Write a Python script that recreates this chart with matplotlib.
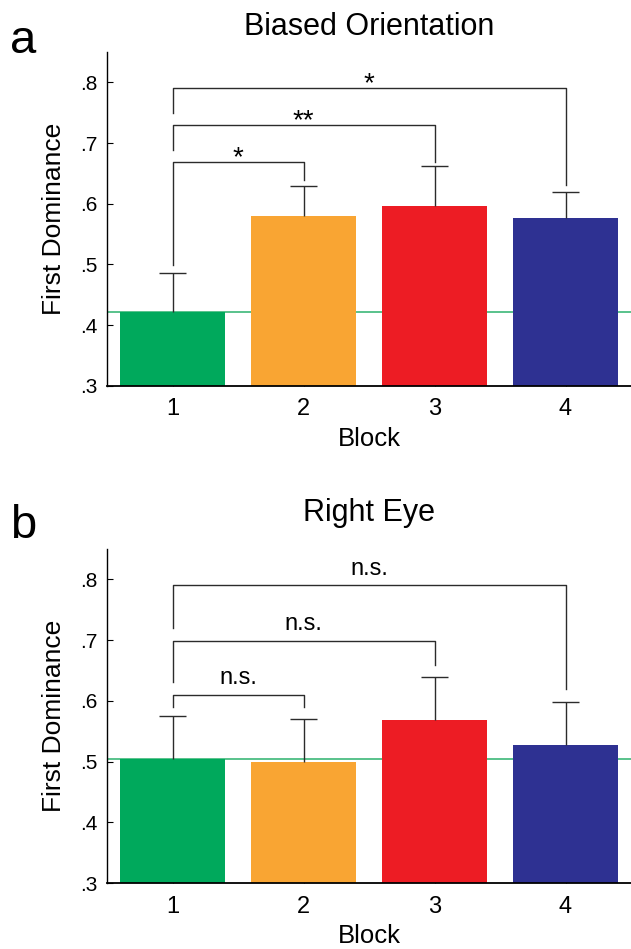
import numpy as np
import matplotlib
matplotlib.use('Agg')
import matplotlib.pyplot as plt

plt.rcParams['font.family'] = ['Liberation Sans', 'DejaVu Sans']

blocks = [1, 2, 3, 4]
block_labels = ['1', '2', '3', '4']
colors = ['#00A95C', '#F9A533', '#ED1C24', '#2E3192']
yticks = [0.3, 0.4, 0.5, 0.6, 0.7, 0.8]
ytick_labels = ['.3', '.4', '.5', '.6', '.7', '.8']

# panel a: Biased Orientation
bias_mean = [0.422, 0.580, 0.597, 0.577]
bias_err = [0.064, 0.049, 0.065, 0.043]
# (from, to, bracket height, left leg end, right leg end, label)
bias_sig = [(1, 2, 0.668, 0.499, 0.639, '*'),
            (1, 3, 0.729, 0.688, 0.668, '**'),
            (1, 4, 0.790, 0.749, 0.631, '*')]

# panel b: Right Eye
eye_mean = [0.505, 0.500, 0.569, 0.528]
eye_err = [0.070, 0.070, 0.070, 0.070]
eye_sig = [(1, 2, 0.610, 0.590, 0.590, 'n.s.'),
           (1, 3, 0.699, 0.631, 0.659, 'n.s.'),
           (1, 4, 0.790, 0.720, 0.620, 'n.s.')]

line_col = '#2b2b2b'


def draw_panel(ax, mean, err, sig, title, tpad):
    mean = np.array(mean)
    top = mean + np.array(err)
    ax.bar(blocks, mean - 0.3, bottom=0.3, width=0.8, color=colors, zorder=2)
    # upper error bars only
    ax.vlines(blocks, mean, top, color=line_col, lw=1, zorder=3)
    ax.hlines(top, np.array(blocks) - 0.1, np.array(blocks) + 0.1, color=line_col, lw=1, zorder=3)
    ax.axhline(mean[0], color='#3cb878', lw=1.2, zorder=1)
    for a, b, h, l1, l2, lab in sig:
        ax.plot([a, a, b, b], [l1, h, h, l2], color=line_col, lw=1, zorder=3)
        if '*' in lab:
            ax.text((a + b) / 2, h - 0.004, lab, ha='center', va='baseline', fontsize=20)
        else:
            ax.text((a + b) / 2, h + 0.017, lab, ha='center', va='baseline', fontsize=17)
    ax.set_xlim(0.5, 4.5)
    ax.set_ylim(0.3, 0.85)
    ax.set_xticks(blocks)
    ax.set_xticklabels(block_labels, fontsize=17)
    ax.set_yticks(yticks)
    ax.set_yticklabels(ytick_labels, fontsize=15)
    ax.tick_params(direction='in', length=4, width=0.8)
    ax.tick_params(axis='x', pad=9)
    ax.tick_params(axis='y', pad=7)
    ax.spines['top'].set_visible(False)
    ax.spines['right'].set_visible(False)
    ax.spines['left'].set_linewidth(1)
    ax.spines['bottom'].set_linewidth(1.3)
    ax.set_xlabel('Block', fontsize=18.5, labelpad=5)
    ax.set_ylabel('First Dominance', fontsize=19, labelpad=10)
    ax.set_title(title, fontsize=22, pad=tpad)


fig = plt.figure(figsize=(6.31, 9.49), dpi=100)
ax1 = fig.add_axes([0.1696, 0.5933, 0.8304, 0.352])
ax2 = fig.add_axes([0.1696, 0.0695, 0.8304, 0.352])
draw_panel(ax1, bias_mean, bias_err, bias_sig, 'Biased Orientation', 12)
draw_panel(ax2, eye_mean, eye_err, eye_sig, 'Right Eye', 20)
fig.text(0.016, 0.944, 'a', fontsize=34, ha='left', va='baseline')
fig.text(0.016, 0.433, 'b', fontsize=34, ha='left', va='baseline')

fig.savefig('out.png', dpi=100)
